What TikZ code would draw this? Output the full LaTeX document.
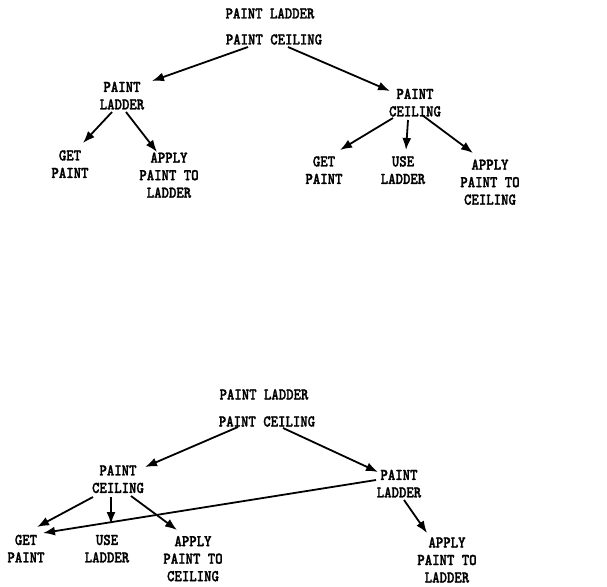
\documentclass[tikz,border=0pt]{standalone}
\usepackage{graphicx}
\usepackage{fontspec}
\usetikzlibrary{arrows.meta}

% heavy, slightly condensed typewriter face for all labels
\newfontfamily\twfont{lmmonolt10-bold.otf}[FakeBold=1.6, FakeStretch=0.86]

% one or more centred lines
\newcommand\twlabel[1]{\begin{tabular}{@{}c@{}}#1\end{tabular}}

\tikzset{
  lbl/.style={inner sep=0pt, anchor=center,
    font=\twfont\fontsize{16.4}{17.5}\selectfont},
  arr/.style={-{Latex[length=12,width=9]}, line width=1.8pt, black},
}

\begin{document}
\begin{tikzpicture}[x=1pt,y=-1pt]
\fill[white] (0,0) rectangle (607,586);
\useasboundingbox (0,0) rectangle (607,586);

% ---- first ordering: ladder before ceiling
\node[lbl] (t1a) at (270,15)    {\twlabel{PAINT LADDER}};
\node[lbl] (t1b) at (274,41)    {\twlabel{PAINT CEILING}};
\node[lbl] (t1l) at (122,97.2)  {\twlabel{PAINT\\LADDER}};
\node[lbl] (t1r) at (415,104.2) {\twlabel{PAINT\\CEILING}};
\node[lbl] (t1lg) at (70,165.7) {\twlabel{GET\\PAINT}};
\node[lbl] (t1la) at (169,176.7){\twlabel{APPLY\\PAINT TO\\LADDER}};
\node[lbl] (t1rg) at (324,171.7){\twlabel{GET\\PAINT}};
\node[lbl] (t1ru) at (403,171.7){\twlabel{USE\\LADDER}};
\node[lbl] (t1ra) at (490,183.7){\twlabel{APPLY\\PAINT TO\\CEILING}};

\draw[arr] ([shift={(-26,6)}]t1b.center) -- ([shift={(30,-16.2)}]t1l.center);
\draw[arr] ([shift={(14,6)}]t1b.center) -- ([shift={(-25,-13.2)}]t1r.center);
\draw[arr] ([shift={(-10,14.8)}]t1l.center) -- ([shift={(13,-22.7)}]t1lg.center);
\draw[arr] ([shift={(4,14.8)}]t1l.center) -- ([shift={(-12,-24.7)}]t1la.center);
\draw[arr] ([shift={(-22,13.8)}]t1r.center) -- ([shift={(16,-21.7)}]t1rg.center);
\draw[arr] ([shift={(-7,15.8)}]t1r.center) -- ([shift={(3,-21.7)}]t1ru.center);
\draw[arr] ([shift={(7,10.8)}]t1r.center) -- ([shift={(-17,-30.7)}]t1ra.center);

% ---- second ordering: ceiling before ladder
\node[lbl] (t2a) at (264,396)   {\twlabel{PAINT LADDER}};
\node[lbl] (t2b) at (267,423)   {\twlabel{PAINT CEILING}};
\node[lbl] (t2l) at (118,480.7) {\twlabel{PAINT\\CEILING}};
\node[lbl] (t2r) at (399,485.2) {\twlabel{PAINT\\LADDER}};
\node[lbl] (t2g) at (26,550.2)  {\twlabel{GET\\PAINT}};
\node[lbl] (t2u) at (107,550.2) {\twlabel{USE\\LADDER}};
\node[lbl] (t2c) at (193,560.2) {\twlabel{APPLY\\PAINT TO\\CEILING}};
\node[lbl] (t2ra) at (447,561.5){\twlabel{APPLY\\PAINT TO\\LADDER}};

\draw[arr] ([shift={(-29,4)}]t2b.center) -- ([shift={(27,-13.7)}]t2l.center);
\draw[arr] ([shift={(16,5)}]t2b.center) -- ([shift={(-21,-13.2)}]t2r.center);
\draw[arr] ([shift={(-25,16.3)}]t2l.center) -- ([shift={(11,-23.2)}]t2g.center);
\draw[arr] ([shift={(-7,16.3)}]t2l.center) -- ([shift={(4,-26.2)}]t2u.center);
\draw[arr] ([shift={(13,15.3)}]t2l.center) -- ([shift={(-16,-30.2)}]t2c.center);
\draw[arr] ([shift={(-23,-5.2)}]t2r.center) -- ([shift={(17,-17.2)}]t2g.center);
\draw[arr] ([shift={(5,14.8)}]t2r.center) -- ([shift={(-20,-28.5)}]t2ra.center);
\end{tikzpicture}
\end{document}
